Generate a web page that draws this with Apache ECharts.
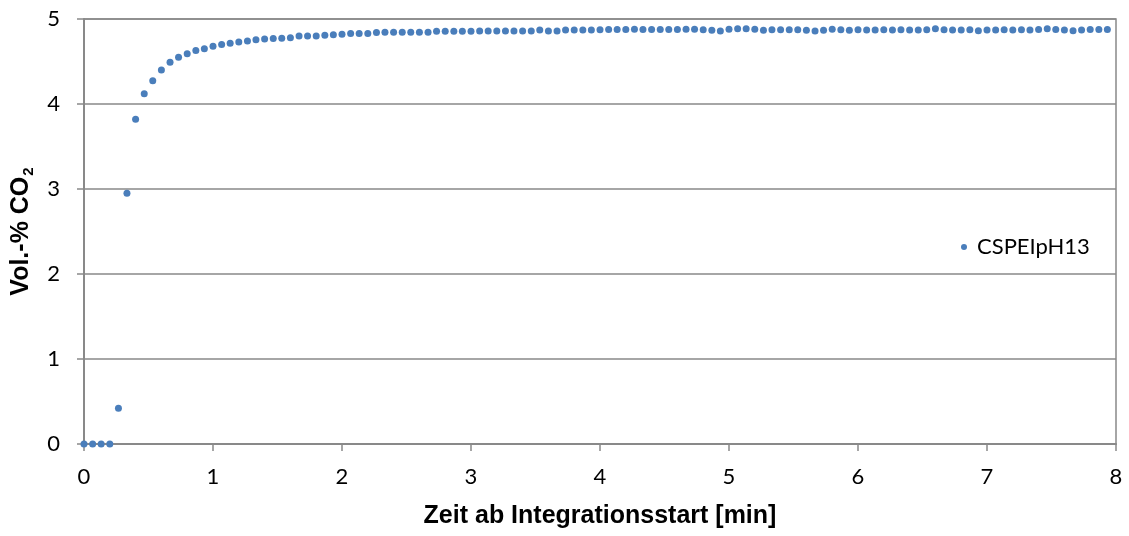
<!DOCTYPE html>
<html>
<head>
<meta charset="utf-8">
<script src="https://cdn.jsdelivr.net/npm/echarts@6/dist/echarts.min.js"></script>
<style>
html,body{margin:0;padding:0;background:#fff;}
#chart{width:1129px;height:536px;}
</style>
</head>
<body>
<div id="chart"></div>
<script>
const seriesName = 'CSPEIpH13';
const xTitle = 'Zeit ab Integrationsstart [min]';
const yTitle = '{a|Vol.-% CO}{b|2}';
const timeMin = [
  0, 0.067, 0.133, 0.2, 0.267, 0.333, 0.4, 0.467, 0.533, 0.6, 0.667, 0.733, 0.8, 0.867, 0.933,
  1, 1.067, 1.133, 1.2, 1.267, 1.333, 1.4, 1.467, 1.533, 1.6, 1.667, 1.733, 1.8, 1.867, 1.933,
  2, 2.067, 2.133, 2.2, 2.267, 2.333, 2.4, 2.467, 2.533, 2.6, 2.667, 2.733, 2.8, 2.867, 2.933,
  3, 3.067, 3.133, 3.2, 3.267, 3.333, 3.4, 3.467, 3.533, 3.6, 3.667, 3.733, 3.8, 3.867, 3.933,
  4, 4.067, 4.133, 4.2, 4.267, 4.333, 4.4, 4.467, 4.533, 4.6, 4.667, 4.733, 4.8, 4.867, 4.933,
  5, 5.067, 5.133, 5.2, 5.267, 5.333, 5.4, 5.467, 5.533, 5.6, 5.667, 5.733, 5.8, 5.867, 5.933,
  6, 6.067, 6.133, 6.2, 6.267, 6.333, 6.4, 6.467, 6.533, 6.6, 6.667, 6.733, 6.8, 6.867, 6.933,
  7, 7.067, 7.133, 7.2, 7.267, 7.333, 7.4, 7.467, 7.533, 7.6, 7.667, 7.733, 7.8, 7.867, 7.933
];
const co2Vol = [
  0, 0, 0, 0, 0.42, 2.95, 3.82, 4.12, 4.275, 4.40, 4.49, 4.55, 4.59, 4.63, 4.65,
  4.68, 4.70, 4.715, 4.73, 4.74, 4.755, 4.765, 4.77, 4.775, 4.78, 4.80, 4.80, 4.80, 4.81, 4.815,
  4.82, 4.83, 4.83, 4.83, 4.84, 4.845, 4.845, 4.845, 4.845, 4.845, 4.845, 4.855, 4.855, 4.855, 4.855,
  4.855, 4.86, 4.86, 4.86, 4.86, 4.86, 4.86, 4.86, 4.87, 4.86, 4.86, 4.87, 4.87, 4.87, 4.87,
  4.875, 4.876, 4.876, 4.876, 4.88, 4.876, 4.876, 4.876, 4.876, 4.876, 4.88, 4.88, 4.875, 4.868, 4.86,
  4.88, 4.885, 4.885, 4.88, 4.868, 4.875, 4.875, 4.875, 4.875, 4.868, 4.86, 4.868, 4.88, 4.875, 4.868,
  4.875, 4.872, 4.872, 4.875, 4.872, 4.875, 4.872, 4.872, 4.875, 4.885, 4.875, 4.872, 4.872, 4.875, 4.862,
  4.872, 4.872, 4.875, 4.872, 4.875, 4.872, 4.876, 4.885, 4.876, 4.87, 4.862, 4.87, 4.876, 4.876, 4.876
];
const xTicks = [0, 1, 2, 3, 4, 5, 6, 7, 8];
const yTicks = [0, 1, 2, 3, 4, 5];

const points = timeMin.map((t, i) => [t, co2Vol[i]]);
const gray = '#898989';
const labelFont = 'Lato, "Open Sans", sans-serif';
const titleFont = '"Liberation Sans", Arial, sans-serif';

const chart = echarts.init(document.getElementById('chart'), null, {renderer: 'canvas'});
chart.setOption({
  animation: false,
  backgroundColor: '#ffffff',
  grid: {
    left: 84, right: 13, top: 19, bottom: 92,
    show: true, borderColor: gray, borderWidth: 1.5, backgroundColor: 'transparent'
  },
  legend: {
    data: [seriesName],
    left: 956, top: 231,
    icon: 'circle', itemWidth: 6, itemHeight: 6, itemGap: 0,
    itemStyle: {opacity: 1},
    textStyle: {fontFamily: labelFont, fontSize: 22, color: '#000', padding: [0, 0, 0, 5]}
  },
  xAxis: {
    type: 'value',
    min: xTicks[0], max: xTicks[xTicks.length - 1], interval: 1,
    name: xTitle, nameLocation: 'middle', nameGap: 60,
    nameTextStyle: {fontFamily: titleFont, fontWeight: 'bold', fontSize: 25, color: '#000'},
    axisLine: {show: true, onZero: false, lineStyle: {color: gray, width: 2}},
    axisTick: {show: true, length: 7, lineStyle: {color: gray, width: 1.5}},
    axisLabel: {fontFamily: labelFont, fontSize: 22, color: '#000', margin: 22},
    splitLine: {show: false}
  },
  yAxis: {
    type: 'value',
    min: yTicks[0], max: yTicks[yTicks.length - 1], interval: 1,
    name: yTitle, nameLocation: 'middle', nameGap: 34, nameRotate: 90,
    nameTextStyle: {
      rich: {
        a: {fontFamily: titleFont, fontWeight: 'bold', fontSize: 25, color: '#000', lineHeight: 30, verticalAlign: 'middle'},
        b: {fontFamily: titleFont, fontWeight: 'bold', fontSize: 15, color: '#000', lineHeight: 30, verticalAlign: 'bottom', padding: [0, 0, 0, 1]}
      }
    },
    axisLine: {show: true, lineStyle: {color: gray, width: 2}},
    axisTick: {show: true, length: 7, lineStyle: {color: gray, width: 1.5}},
    axisLabel: {fontFamily: labelFont, fontSize: 22, color: '#000', margin: 24},
    splitLine: {show: true, lineStyle: {color: gray, width: 1.5}}
  },
  series: [{
    name: seriesName,
    type: 'scatter',
    data: points,
    symbol: 'circle',
    symbolSize: 7,
    itemStyle: {color: '#4A7EBB', opacity: 1}
  }]
});
</script>
</body>
</html>
